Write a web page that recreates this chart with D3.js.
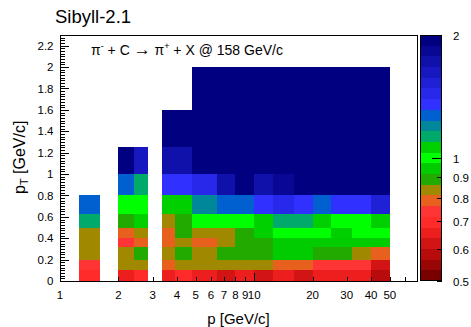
<!DOCTYPE html>
<html><head><meta charset="utf-8">
<script src="https://cdn.jsdelivr.net/npm/d3@7"></script>
<style>
body{margin:0;background:#fff}
text{font-family:"Liberation Sans",Arial,Helvetica,sans-serif;fill:#000}
</style>
</head><body>
<svg id="c" width="471" height="327"></svg>
<script>
// ---------- data ----------
const colLo = [1.25, 2.0, 2.4, 3.35, 3.9, 4.8, 6.4, 8, 10, 12.5, 16, 20, 25, 32, 40];
const colHi = [1.6, 2.4, 2.85, 3.9, 4.8, 6.4, 8, 10, 12.5, 16, 20, 25, 32, 40, 50];
const ptEdges = [0, 0.1, 0.2, 0.315, 0.4, 0.5, 0.625, 0.8, 1.0, 1.25, 1.6, 2.0];
// ratio MC/data per pT row (bottom to top), per p column
const row0  = [0.70, 0.66, 0.70, 0.66, 0.70, 0.66, 0.62, 0.66, 0.62, 0.66, 0.62, 0.66, 0.66, 0.66, 0.58];
const row1  = [0.74, 0.835, 0.835, 0.79, 0.835, 0.835, 0.835, 0.835, 0.835, 0.79, 0.79, 0.74, 0.74, 0.74, 0.62];
const row2  = [0.835, 0.835, 0.89, 0.835, 0.89, 0.835, 0.89, 0.89, 0.89, 0.94, 0.94, 0.89, 0.89, 0.835, 0.79];
const row3  = [0.835, 0.74, 0.79, 0.79, 0.835, 0.79, 0.835, 0.89, 0.89, 0.94, 0.94, 0.94, 0.94, 0.94, 0.94];
const row4  = [0.835, 0.79, 0.835, 0.79, 0.89, 0.835, 0.835, 0.89, 1.06, 1.0, 1.0, 1.0, 1.06, 1.0, 1.0];
const row5  = [1.13, 0.89, 1.06, 0.835, 0.89, 1.0, 1.0, 1.0, 1.06, 1.13, 1.13, 1.06, 1.0, 1.0, 1.06];
const row6  = [1.27, 1.0, 1.0, 1.06, 1.06, 1.20, 1.27, 1.27, 1.35, 1.44, 1.35, 1.27, 1.35, 1.35, 1.52];
const row7  = [null, 1.27, 1.13, 1.35, 1.35, 1.44, 1.72, 1.95, 1.72, 1.83, 1.95, 1.95, 1.95, 1.95, 1.95];
const row8  = [null, 1.95, 1.62, 1.72, 1.72, 1.95, 1.95, 1.95, 1.95, 1.95, 1.95, 1.95, 1.95, 1.95, 1.95];
const row9  = [null, null, null, 1.95, 1.95, 1.95, 1.95, 1.95, 1.95, 1.95, 1.95, 1.95, 1.95, 1.95, 1.95];
const row10 = [null, null, null, null, null, 1.95, 1.95, 1.95, 1.95, 1.95, 1.95, 1.95, 1.95, 1.95, 1.95];
const rows = [row0,row1,row2,row3,row4,row5,row6,row7,row8,row9,row10];
const xTickLabels = [1,2,3,4,5,6,7,8,9,10,20,30,40,50];
const yTickLabels = [0,0.2,0.4,0.6,0.8,1,1.2,1.4,1.6,1.8,2,2.2];
const zTickLabels = [0.5,0.6,0.7,0.8,0.9,1,2];

// ---------- style ----------
const palette = ["#7a0000","#9a0505","#b80b0b","#d21414","#ec1e1e","#ff2a2a","#ff3434",
 "#e8601e","#a08800","#22aa00","#00cc00","#00ff00","#00d000","#00aa6a","#00889a","#0060d0",
 "#3030ff","#2828ea","#2020d6","#1818c0","#1010aa","#080895","#000080"];
const nCol = palette.length;

const svg = d3.select("#c");
const x = d3.scaleLog().domain([1,69]).range([60,417]);
const y = d3.scaleLinear().domain([0,2.3]).range([281,35]);
const z = d3.scaleLog().domain([0.5,2]).range([281,35]);
const thresholds = d3.range(1,nCol).map(i=>0.5*Math.pow(4,i/nCol));
const color = d3.scaleThreshold().domain(thresholds).range(palette);

// cells
const cells = [];
rows.forEach((r,ri)=>r.forEach((v,ci)=>{ if(v!=null) cells.push({ri,ci,v}); }));
svg.append("g").attr("shape-rendering","crispEdges").selectAll("rect").data(cells).join("rect")
  .attr("x",d=>x(colLo[d.ci]))
  .attr("width",d=>x(colHi[d.ci])-x(colLo[d.ci]))
  .attr("y",d=>y(ptEdges[d.ri+1]))
  .attr("height",d=>y(ptEdges[d.ri])-y(ptEdges[d.ri+1]))
  .attr("fill",d=>color(d.v));

// frame
const g = svg.append("g").attr("shape-rendering","crispEdges").attr("stroke","#000").attr("fill","none");
g.append("rect").attr("x",60.5).attr("y",35.5).attr("width",x.range()[1]-x.range()[0]).attr("height",y(0)-y(2.3));

// x ticks (log)
const xMinor = [2,3,4,5,6,7,8,9,20,30,40,50,60];
xMinor.forEach(p=>g.append("line").attr("x1",Math.round(x(p))+0.5).attr("x2",Math.round(x(p))+0.5).attr("y1",281).attr("y2",277));
[10].forEach(p=>g.append("line").attr("x1",Math.round(x(p))+0.5).attr("x2",Math.round(x(p))+0.5).attr("y1",281).attr("y2",273));
// y ticks
d3.range(0,2.3001,0.025).forEach(v=>{
  const major = Math.abs(v/0.2-Math.round(v/0.2))<1e-6;
  const yy = Math.round(y(v))+0.5;
  g.append("line").attr("x1",60).attr("x2",60+(major?9:4.5)).attr("y1",yy).attr("y2",yy);
});

// tick labels
svg.append("g").selectAll("text").data(xTickLabels).join("text")
  .attr("x",d=>x(d)).attr("y",298.5).attr("text-anchor","middle").attr("font-size",11.5).text(d=>d);
svg.append("g").selectAll("text").data(yTickLabels).join("text")
  .attr("x",53.5).attr("y",d=>y(d)).attr("dy","0.36em").attr("text-anchor","end").attr("font-size",11.5).text(d=>d);

// color bar
const bands = d3.range(nCol).map(i=>({lo:0.5*Math.pow(4,i/nCol),hi:0.5*Math.pow(4,(i+1)/nCol),c:palette[i]}));
svg.append("g").attr("shape-rendering","crispEdges").selectAll("rect").data(bands).join("rect")
  .attr("x",420).attr("width",22).attr("y",d=>z(d.hi)).attr("height",d=>z(d.lo)-z(d.hi)).attr("fill",d=>d.c);
const gz = svg.append("g").attr("shape-rendering","crispEdges").attr("stroke","#000").attr("fill","none");
gz.append("rect").attr("x",420.5).attr("y",35.5).attr("width",21).attr("height",245);
zTickLabels.forEach(v=>{
  const yy=Math.round(z(v))+0.5;
  gz.append("line").attr("x1",442).attr("x2",442-(v===1?10:5)).attr("y1",yy).attr("y2",yy);
});
svg.append("g").selectAll("text").data(zTickLabels).join("text")
  .attr("x",453).attr("y",d=>z(d)+1).attr("dy","0.36em").attr("font-size",11.5).text(d=>d);

// titles
svg.append("text").attr("x",55).attr("y",23).attr("font-size",18.5).text("Sibyll-2.1");
const t = svg.append("text").attr("x",91).attr("y",55).attr("font-size",14).attr("xml:space","preserve");
t.append("tspan").text("\u03c0");
t.append("tspan").attr("font-size",9).attr("dy",-6).text("-");
t.append("tspan").attr("dy",6).text(" + C ");
t.append("tspan").attr("font-size",17).attr("dy",0).text("\u2192");
t.append("tspan").text(" \u03c0");
t.append("tspan").attr("font-size",9).attr("dy",-6).text("+");
t.append("tspan").attr("dy",6).text(" + X @ 158 GeV/c");

svg.append("text").attr("x",238.5).attr("y",324).attr("text-anchor","middle").attr("font-size",15).text("p [GeV/c]");
const yt = svg.append("text").attr("transform","translate(25,194) rotate(-90)").attr("font-size",16);
yt.append("tspan").text("p");
yt.append("tspan").attr("font-size",11).attr("dy",3).text("T");
yt.append("tspan").attr("dy",-3).text(" [GeV/c]");
</script>
</body></html>
